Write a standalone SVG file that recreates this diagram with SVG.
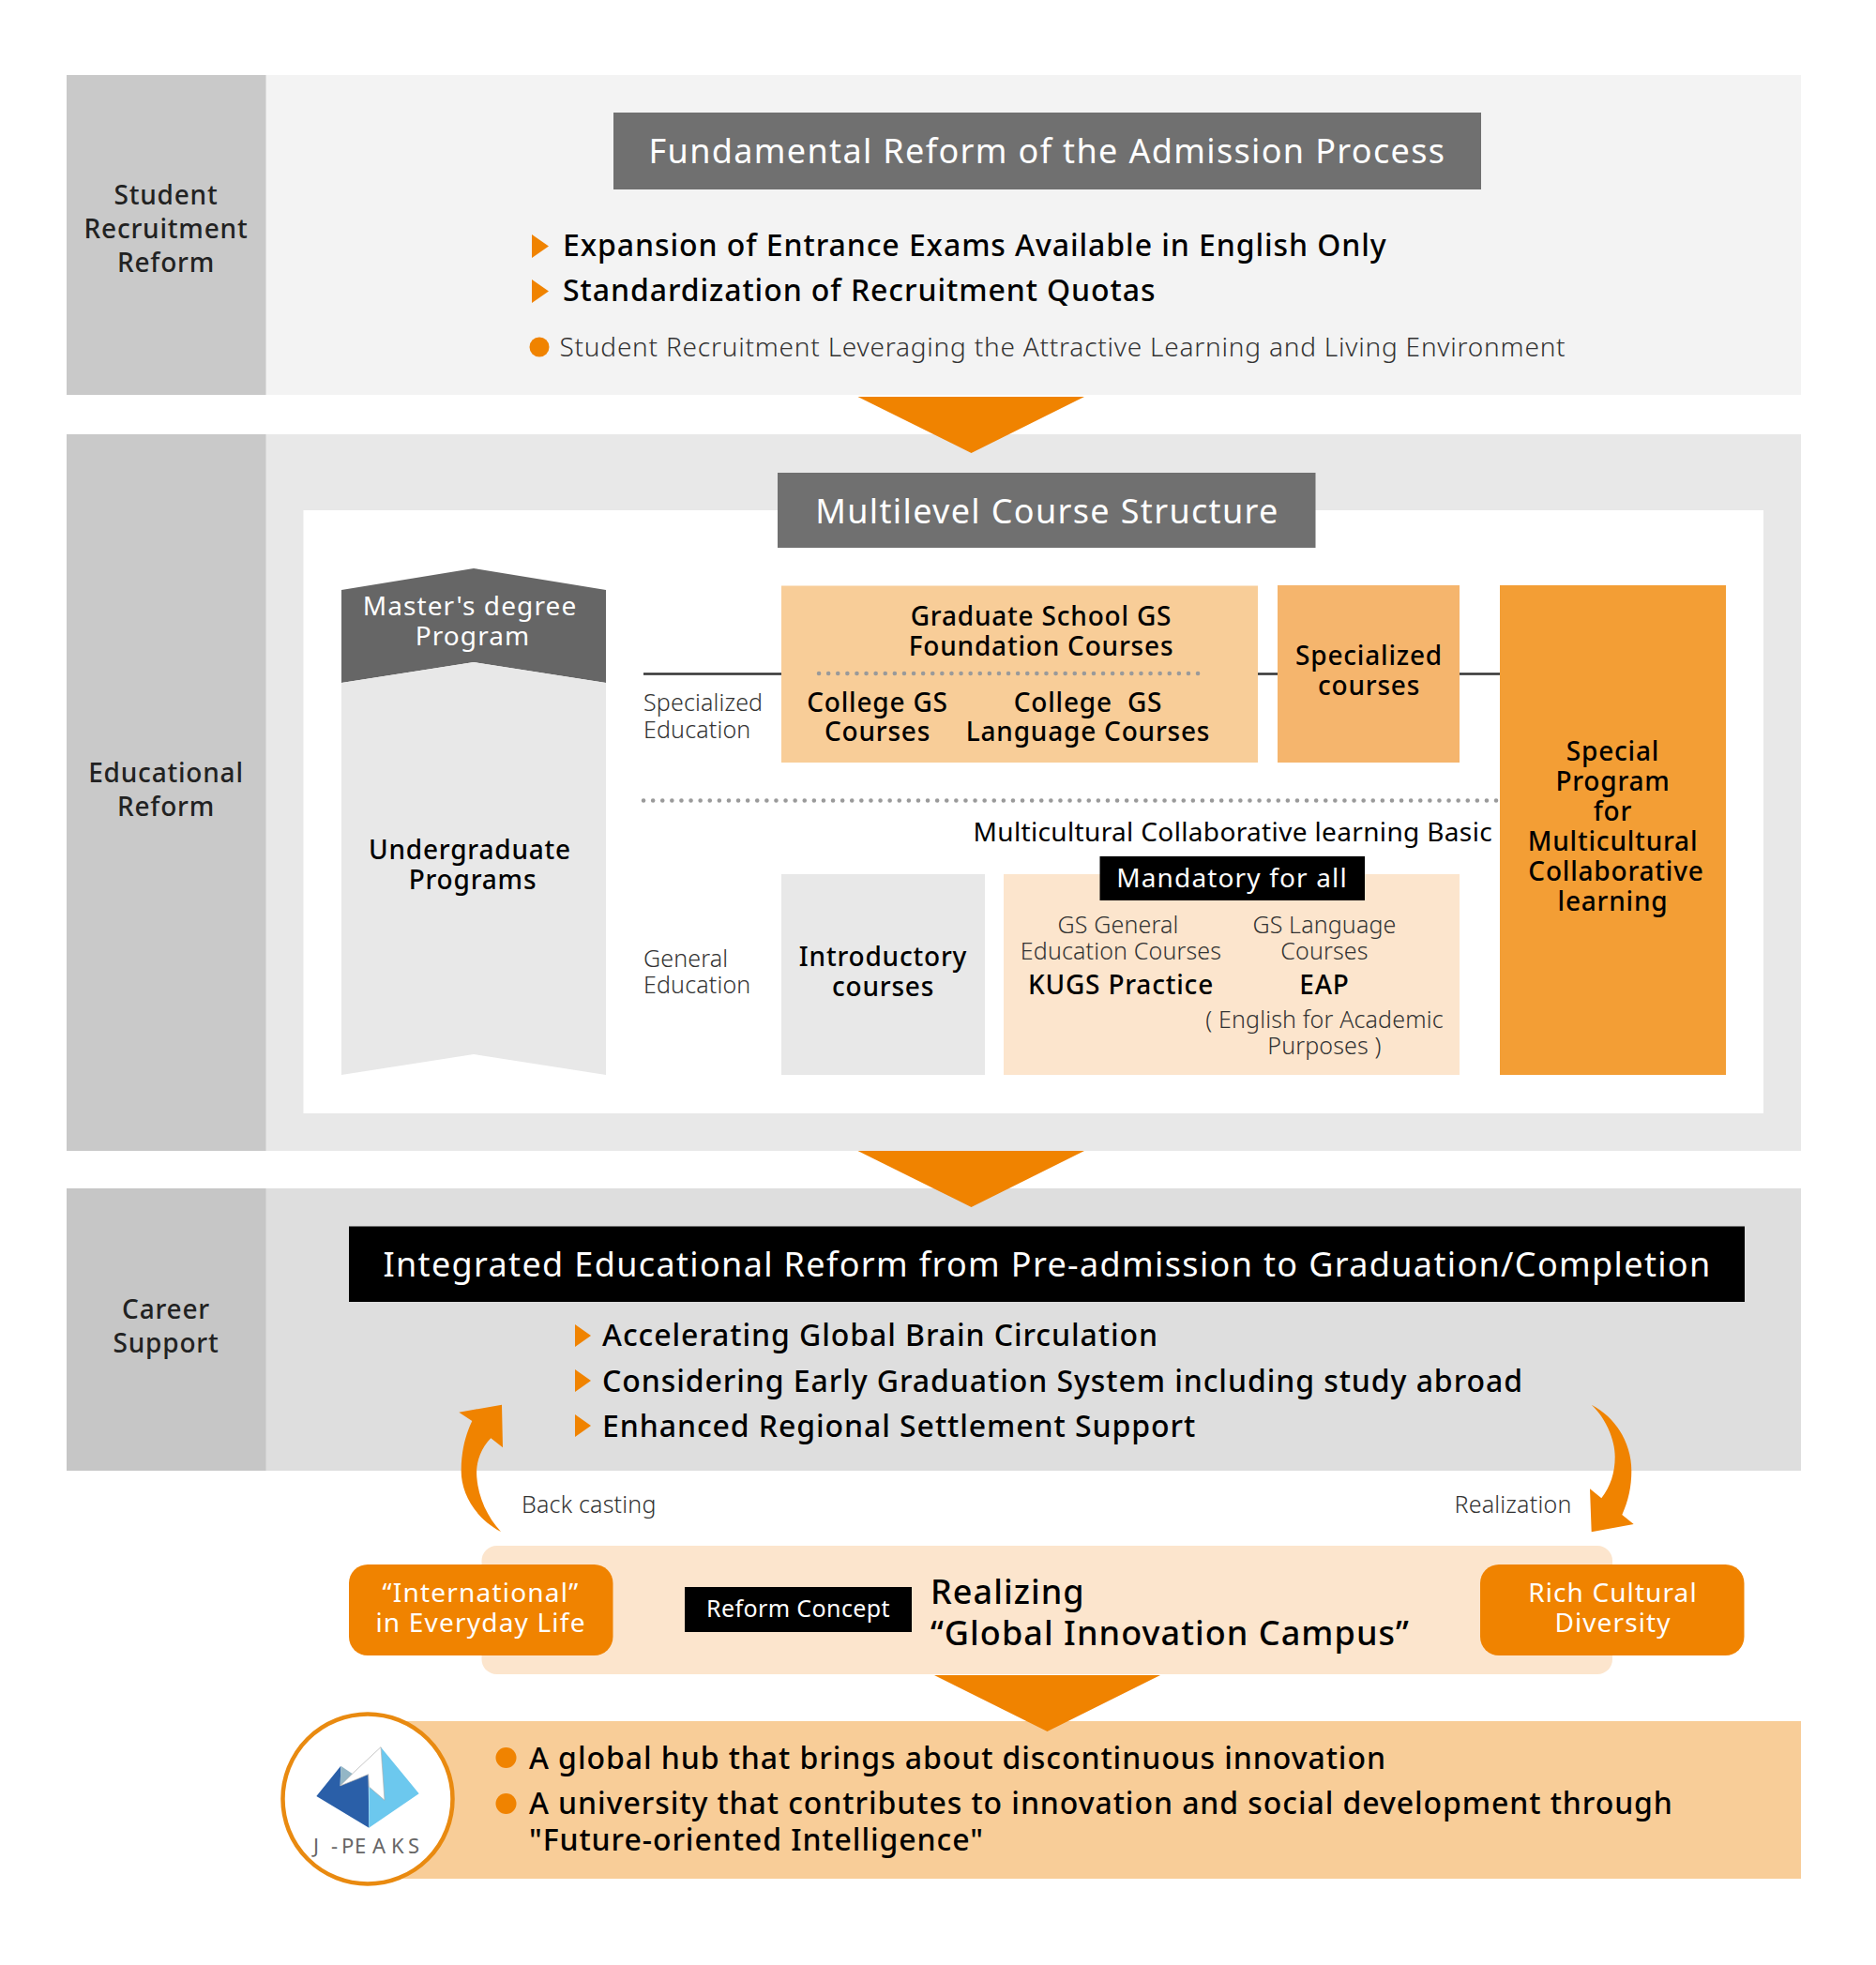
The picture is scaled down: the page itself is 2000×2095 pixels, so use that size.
<svg xmlns="http://www.w3.org/2000/svg" width="2000" height="2095" viewBox="0 0 2000 2095">
<style>
text{font-family:"Noto Sans","Open Sans",sans-serif;fill:#000;font-weight:500;letter-spacing:1px}
.c{text-anchor:middle}
.w{fill:#fff}
.h{font-size:36px;letter-spacing:1.35px;font-weight:400}
.b{font-size:32px;letter-spacing:.92px}
.m{font-size:28px;letter-spacing:.8px}
.lab{font-size:28px;letter-spacing:.8px;fill:#222}
.s{font-size:25px;font-weight:300;fill:#333;letter-spacing:.15px}
.or{fill:#f08300}
.dot{stroke:#9a9a9a;stroke-width:4.500;stroke-linecap:round;stroke-dasharray:0.1 10;fill:none}
.ln{stroke:#333;stroke-width:2.500;fill:none}
</style>
<rect width="2000" height="2095" fill="#fff"/>
<g id="section-recruitment">
<rect x="71" y="80" width="1849" height="341" fill="#f3f3f3"/>
<rect x="71" y="80" width="212.500" height="341" fill="#c9c9c9"/>
<text class="lab c"><tspan x="177" y="218">Student</tspan><tspan x="177" y="254">Recruitment</tspan><tspan x="177" y="290">Reform</tspan></text>
<rect x="654" y="120" width="925" height="82" fill="#707070"/>
<text class="h c w" x="1116.500" y="174">Fundamental Reform of the Admission Process</text>
<polygon class="or" points="567,250 585,262.500 567,275"/>
<text class="b" x="600" y="273">Expansion of Entrance Exams Available in English Only</text>
<polygon class="or" points="567,298 585,310.500 567,323"/>
<text class="b" x="600" y="321">Standardization of Recruitment Quotas</text>
<circle class="or" cx="575" cy="370" r="10.500"/>
<text x="596.500" y="380" style="font-size:28px;font-weight:300;fill:#333;letter-spacing:.78px">Student Recruitment Leveraging the Attractive Learning and Living Environment</text>
</g>
<g id="section-education">
<rect x="71" y="463" width="1849" height="764" fill="#e8e8e8"/>
<rect x="71" y="463" width="212.500" height="764" fill="#c9c9c9"/>
<text class="lab c"><tspan x="177" y="834">Educational</tspan><tspan x="177" y="870">Reform</tspan></text>
<rect x="323.500" y="544" width="1556.500" height="643" fill="#fff"/>
<rect x="829" y="504" width="573.500" height="80" fill="#707070"/>
<text class="h c w" x="1116.500" y="558">Multilevel Course Structure</text>
</g>
<g id="masters-program">
<polygon points="364,629 505,606 646,629 646,728 505,706 364,728" fill="#666"/>
<text class="m c w" style="font-weight:400;letter-spacing:1.1px"><tspan x="501" y="656">Master's degree</tspan><tspan x="504" y="688">Program</tspan></text>
</g>
<g id="undergraduate-programs">
<polygon points="364,728 505,706 646,728 646,1146 505,1124 364,1146" fill="#e8e8e8"/>
<text class="m c"><tspan x="501" y="916">Undergraduate</tspan><tspan x="504" y="948">Programs</tspan></text>
</g>
<g id="label-specialized"><text class="s"><tspan x="686" y="758">Specialized</tspan><tspan x="686" y="787">Education</tspan></text></g>
<g id="label-general"><text class="s"><tspan x="686" y="1031">General</tspan><tspan x="686" y="1059">Education</tspan></text></g>
<g id="gs-foundation">
<rect x="833" y="624.500" width="508" height="188.500" fill="#f8cd98"/>
<text class="m c"><tspan x="1110" y="667">Graduate School GS</tspan><tspan x="1110" y="699">Foundation Courses</tspan></text>
<text class="m c"><tspan x="935.500" y="759">College GS</tspan><tspan x="935.500" y="790">Courses</tspan></text>
<text class="m c" xml:space="preserve"><tspan x="1160" y="759">College  GS</tspan><tspan x="1160" y="790">Language Courses</tspan></text>
</g>
<g id="specialized-courses">
<rect x="1362" y="624" width="194" height="189" fill="#f5b56d"/>
<text class="m c"><tspan x="1459.500" y="709">Specialized</tspan><tspan x="1459.500" y="741">courses</tspan></text>
</g>
<g id="special-program">
<rect x="1599" y="624" width="241" height="522" fill="#f39e35"/>
<text class="m c"><tspan x="1719.500" y="811">Special</tspan><tspan x="1719.500" y="843">Program</tspan><tspan x="1719.500" y="875">for</tspan><tspan x="1719.500" y="907">Multicultural</tspan><tspan x="1723" y="939">Collaborative</tspan><tspan x="1719.500" y="971">learning</tspan></text>
</g>
<g id="multicultural-basic"><text x="1591" y="897" text-anchor="end" style="font-size:28px;font-weight:400;letter-spacing:.35px">Multicultural Collaborative learning Basic</text></g>
<g id="introductory-courses">
<rect x="833" y="932" width="217" height="214" fill="#e8e8e8"/>
<text class="m c"><tspan x="941.500" y="1030">Introductory</tspan><tspan x="941.500" y="1062">courses</tspan></text>
</g>
<g id="mandatory">
<rect x="1070" y="932" width="486" height="214" fill="#fce5cd"/>
<rect x="1172.500" y="913" width="282.500" height="47" fill="#000"/>
<text class="m c w" x="1313.500" y="946" style="font-weight:400;letter-spacing:1.15px">Mandatory for all</text>
<text class="s c"><tspan x="1192" y="995">GS General</tspan><tspan x="1195" y="1023">Education Courses</tspan></text>
<text class="s c"><tspan x="1412" y="995">GS Language</tspan><tspan x="1412" y="1023">Courses</tspan></text>
<text class="m c" x="1195" y="1060">KUGS Practice</text>
<text class="m c" x="1412" y="1060">EAP</text>
<text class="s c"><tspan x="1412" y="1096">( English for Academic</tspan><tspan x="1412" y="1124">Purposes )</tspan></text>
</g>
<g id="section-career">
<rect x="71" y="1267" width="1849" height="301" fill="#dedede"/>
<rect x="71" y="1267" width="212.500" height="301" fill="#c6c6c6"/>
<text class="lab c"><tspan x="177" y="1406">Career</tspan><tspan x="177" y="1442">Support</tspan></text>
<rect x="372" y="1307.500" width="1488" height="80.500" fill="#000"/>
<text class="h c w" x="1116.500" y="1361">Integrated Educational Reform from Pre-admission to Graduation/Completion</text>
<polygon class="or" points="613,1412 630,1424 613,1436"/>
<text class="b" x="642" y="1435">Accelerating Global Brain Circulation</text>
<polygon class="or" points="613,1460 630,1472 613,1484"/>
<text class="b" x="642" y="1484">Considering Early Graduation System including study abroad</text>
<polygon class="or" points="613,1508 630,1520 613,1532"/>
<text class="b" x="642" y="1532">Enhanced Regional Settlement Support</text>
</g>
<g id="arrow-labels">
<text class="s" x="556" y="1613" style="letter-spacing:.2px">Back casting</text>
<text class="s" x="1675.500" y="1613" text-anchor="end" style="letter-spacing:.2px">Realization</text>
</g>
<g id="outcome-band">
<rect x="392" y="1835" width="1528" height="168" fill="#f8cd98"/>
<circle class="or" cx="539.500" cy="1874" r="11"/>
<text class="b" x="564" y="1886">A global hub that brings about discontinuous innovation</text>
<circle class="or" cx="539.500" cy="1923" r="11"/>
<text class="b"><tspan x="564" y="1934">A university that contributes to innovation and social development through</tspan><tspan x="564" y="1973">"Future-oriented Intelligence"</tspan></text>
</g>
<g id="reform-concept">
<rect x="513.500" y="1648" width="1205.500" height="137" rx="16" fill="#fce5cd"/>
<rect x="730" y="1692" width="242" height="48" fill="#000"/>
<text class="c w" x="851" y="1724" style="font-size:25px;font-weight:400;letter-spacing:.4px">Reform Concept</text>
<text style="font-size:36px;letter-spacing:1.05px"><tspan x="992" y="1710">Realizing</tspan><tspan x="992" y="1754">“Global Innovation Campus”</tspan></text>
</g>
<g id="international">
<rect x="372" y="1668" width="281.500" height="97" rx="20" fill="#f08300"/>
<text class="m c w" style="font-weight:400;letter-spacing:1.2px"><tspan x="512.500" y="1708">“International”</tspan><tspan x="512.500" y="1740">in Everyday Life</tspan></text>
</g>
<g id="cultural-diversity">
<rect x="1578" y="1668" width="281.500" height="97" rx="20" fill="#f08300"/>
<text class="m c w" style="font-weight:400;letter-spacing:1.1px"><tspan x="1719.500" y="1708">Rich Cultural</tspan><tspan x="1719.500" y="1740">Diversity</tspan></text>
</g>
<g id="connectors">
<polygon class="or" points="914.500,423 1156,423 1035.500,483"/>
<polygon class="or" points="914.500,1227 1156,1227 1035.500,1287"/>
<polygon class="or" points="996,1786 1237,1786 1116.500,1846"/>
<path class="ln" d="M686 718.500H833M1341 718.500H1362M1556 718.500H1599"/>
<path class="dot" d="M873 718H1287"/>
<path class="dot" d="M686 853.500H1595"/>
<path class="or" d="M489.300 1505.700L535 1497.700L536 1543.300L523.300 1533.300C512 1545 507 1560 508.300 1575C510 1597 520 1618 534 1633C505 1618 491 1590 491.700 1566.700C492 1545 497 1528 503.300 1515Z"/>
<path class="or" d="M1696.700 1497.700C1724 1512 1739.300 1540 1739.300 1568C1739.300 1585 1736 1600 1729.300 1615L1741.700 1625L1696.700 1633.300L1695 1587.300L1707.300 1597.300C1717 1585 1721.700 1570 1721.700 1553.300C1721.700 1535 1712 1512 1696.700 1497.700Z"/>
</g>
<g id="logo">
<circle cx="392" cy="1918" r="90.500" fill="#fff" stroke="#e98a10" stroke-width="4.500"/>
<g transform="translate(280 1780) scale(.33333)">
<polygon points="172,405 250,308 248,372 290,350 338,335 340,506" fill="#2a5fa8"/>
<polygon points="378,248 500,397 340,506 340,335 388,418" fill="#6cc8ee"/>
<polygon points="250,308 290,335 248,372" fill="#93b6c6"/>
<polygon points="378,248 385,345 390,418 340,375 338,335 303,350 248,372 285,335" fill="#fff" stroke="#aaa" stroke-width="2"/>
</g>
<text y="1976" x="334 353 364 378 397 417 435" style="font-size:22px;font-weight:400;fill:#666;letter-spacing:0">J-PEAKS</text>
</g>
</svg>
